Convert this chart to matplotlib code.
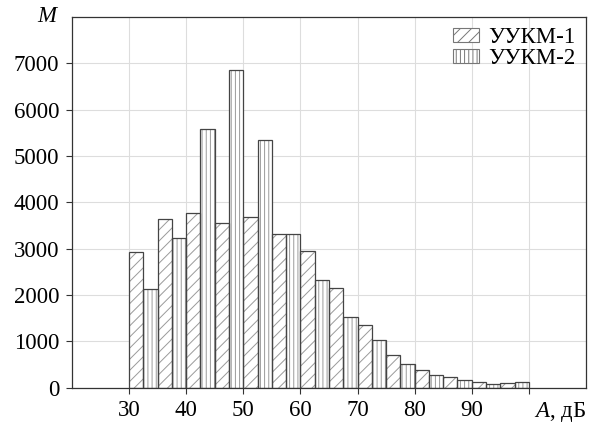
import numpy as np
import matplotlib
matplotlib.use("Agg")
import matplotlib.pyplot as plt
from matplotlib.patches import Patch

# bins of 5 dB, left edges
bin_left = [30, 35, 40, 45, 50, 55, 60, 65, 70, 75, 80, 85, 90, 95]
ukm1 = [2920, 3630, 3765, 3545, 3685, 3325, 2960, 2155, 1345, 700, 375, 237, 116, 95]
ukm2 = [2120, 3220, 5575, 6855, 5340, 3325, 2315, 1515, 1035, 505, 267, 160, 73, 116]
labels = ["УУКМ-1", "УУКМ-2"]
xticks = [30, 40, 50, 60, 70, 80, 90, 100]
xticklabels = ["30", "40", "50", "60", "70", "80", "90", ""]
yticks = [0, 1000, 2000, 3000, 4000, 5000, 6000, 7000]

plt.rcParams['font.family'] = ['Liberation Serif', 'DejaVu Serif']
plt.rcParams['mathtext.fontset'] = 'custom'
plt.rcParams['mathtext.it'] = 'Liberation Serif:italic'
plt.rcParams['mathtext.rm'] = 'Liberation Serif'
plt.rcParams['hatch.linewidth'] = 0.7

fs = 16.5

fig = plt.figure(figsize=(6.02, 4.29), dpi=100)
ax = fig.add_axes([0.1196, 0.0963, 0.8538, 0.8641])

x = np.array(bin_left, dtype=float)
w = 2.5
edge = "#444444"
hatch_col = "#9a9a9a"

# hatch layer then outline layer
ax.bar(x, ukm1, width=w, align="edge", color="white", edgecolor=hatch_col,
       hatch="///", linewidth=0, zorder=2)
ax.bar(x + w, ukm2, width=w, align="edge", color="white", edgecolor=hatch_col,
       hatch="||||", linewidth=0, zorder=2)
ax.bar(x, ukm1, width=w, align="edge", fill=False, edgecolor=edge,
       linewidth=0.9, zorder=3)
ax.bar(x + w, ukm2, width=w, align="edge", fill=False, edgecolor=edge,
       linewidth=0.9, zorder=3)

ax.set_xlim(20, 110)
ax.set_ylim(0, 8000)
ax.set_xticks(xticks)
ax.set_xticklabels(xticklabels)
ax.set_yticks(yticks)
ax.tick_params(labelsize=fs, length=4, width=0.8, color="#333333", pad=5)
ax.grid(True, color="#dddddd", linewidth=0.8, zorder=0)
ax.set_axisbelow(True)
for s in ax.spines.values():
    s.set_color("#333333")
    s.set_linewidth(0.9)

ax.text(-0.03, 1.0, "M", transform=ax.transAxes, ha="right", va="center",
        fontsize=fs, style="italic")
ax.text(1.0, -0.065, "$A$, дБ", transform=ax.transAxes, ha="right",
        va="center", fontsize=fs)

handles = [Patch(facecolor="white", edgecolor="#777777", hatch="///", linewidth=0.8),
           Patch(facecolor="white", edgecolor="#777777", hatch="||||", linewidth=0.8)]
ax.legend(handles, labels, loc="upper right", frameon=False, fontsize=fs,
          handlelength=1.15, handleheight=0.6, handletextpad=0.4,
          labelspacing=0.0, borderaxespad=0.3, borderpad=0.15)

fig.savefig("out.png", dpi=100)
